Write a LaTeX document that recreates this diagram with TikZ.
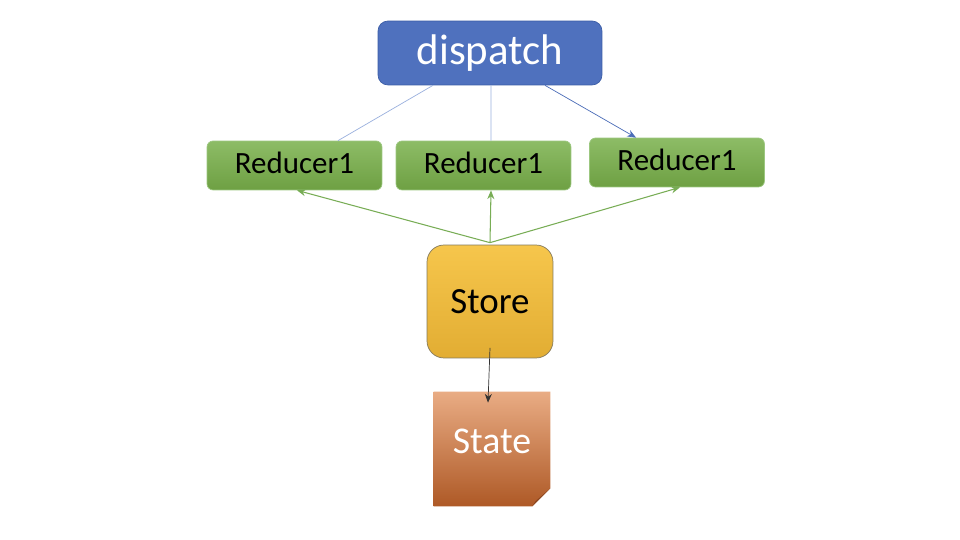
\documentclass[tikz,border=0pt]{standalone}
\usepackage{fontspec}
\setmainfont{Carlito}
\usetikzlibrary{arrows.meta, backgrounds}

\definecolor{dispblue}{HTML}{4F71BE}
\definecolor{dispedge}{HTML}{3B5DA6}
\definecolor{linkblue}{HTML}{9AB0DE}
\definecolor{arrowblue}{HTML}{4A6CB8}
\definecolor{redtop}{HTML}{8DBC66}
\definecolor{redbot}{HTML}{6EA043}
\definecolor{rededge}{HTML}{9CC780}
\definecolor{storetop}{HTML}{F6C64C}
\definecolor{storebot}{HTML}{E2AD33}
\definecolor{storeedge}{HTML}{857A5C}
\definecolor{statetop}{HTML}{E9AC84}
\definecolor{statebot}{HTML}{AE5926}
\definecolor{statefold}{HTML}{8A4620}
\definecolor{greenline}{HTML}{78AD55}

\begin{document}
\begin{tikzpicture}[x=0.02cm, y=-0.02cm, >={Stealth[length=5pt, width=4pt]},
    disp/.style={rectangle, rounded corners=0.2cm, draw=dispedge, fill=dispblue, text=white, minimum width=4.48cm, minimum height=1.28cm, font=\fontsize{24.4}{28}\selectfont},
    reducer/.style={rectangle, rounded corners=0.12cm, draw=rededge, top color=redtop, bottom color=redbot, minimum width=3.5cm, minimum height=0.98cm, text depth=0.1cm, font=\fontsize{17.6}{20}\selectfont},
    storebox/.style={rectangle, rounded corners=0.34cm, draw=storeedge, top color=storetop, bottom color=storebot, minimum width=2.52cm, minimum height=2.26cm, font=\fontsize{21}{24}\selectfont},
    statebox/.style={rectangle, minimum width=2.32cm, minimum height=2.28cm, text=white, text depth=0.32cm, font=\fontsize{21.5}{24}\selectfont}]

    \useasboundingbox (0,0) rectangle (960,540);

    \node[disp] (dispatch) at (490,53) {dispatch};
    \node[reducer] (r1) at (294.5,165.5) {Reducer1};
    \node[reducer] (r2) at (483.5,165.5) {Reducer1};
    \node[reducer] (r3) at (677,162.5) {Reducer1};
    \node[storebox] (store) at (490,301.5) {Store};
    \node[statebox] (state) at (492,449) {State};

    \begin{scope}[on background layer]
        \fill[white] (0,0) rectangle (960,540);
        \shade[top color=statetop, bottom color=statebot]
            (state.north west) -- (state.north east) -- ([yshift=0.36cm]state.south east)
            -- ([xshift=-0.36cm]state.south east) -- (state.south west) -- cycle;
        \fill[statefold] ([yshift=0.36cm]state.south east) -- ([xshift=-0.36cm]state.south east)
            -- ([xshift=-0.3cm, yshift=0.1cm]state.south east) -- cycle;
    \end{scope}

\path
        ([xshift=-1.14cm]dispatch.south) edge[draw=linkblue, thin] ([xshift=0.87cm]r1.north)
        ([xshift=0.02cm]dispatch.south) edge[draw=linkblue, thin] ([xshift=0.15cm]r2.north)
        ([xshift=1.1cm]dispatch.south) edge[->, draw=arrowblue, thin] ([xshift=-0.82cm]r3.north)
        ([yshift=0.04cm]store.north) edge[->, draw=greenline, semithick] ([xshift=0.05cm]r1.south)
        ([yshift=0.04cm]store.north) edge[->, draw=greenline, semithick] ([xshift=0.15cm]r2.south)
        ([yshift=0.04cm]store.north) edge[->, draw=greenline, semithick] ([xshift=0.06cm]r3.south)
        ([yshift=-0.93cm]store.center) edge[->, draw=black!80, thin] ([xshift=-0.08cm, yshift=-0.22cm]state.north)
;
\end{tikzpicture}
\end{document}
